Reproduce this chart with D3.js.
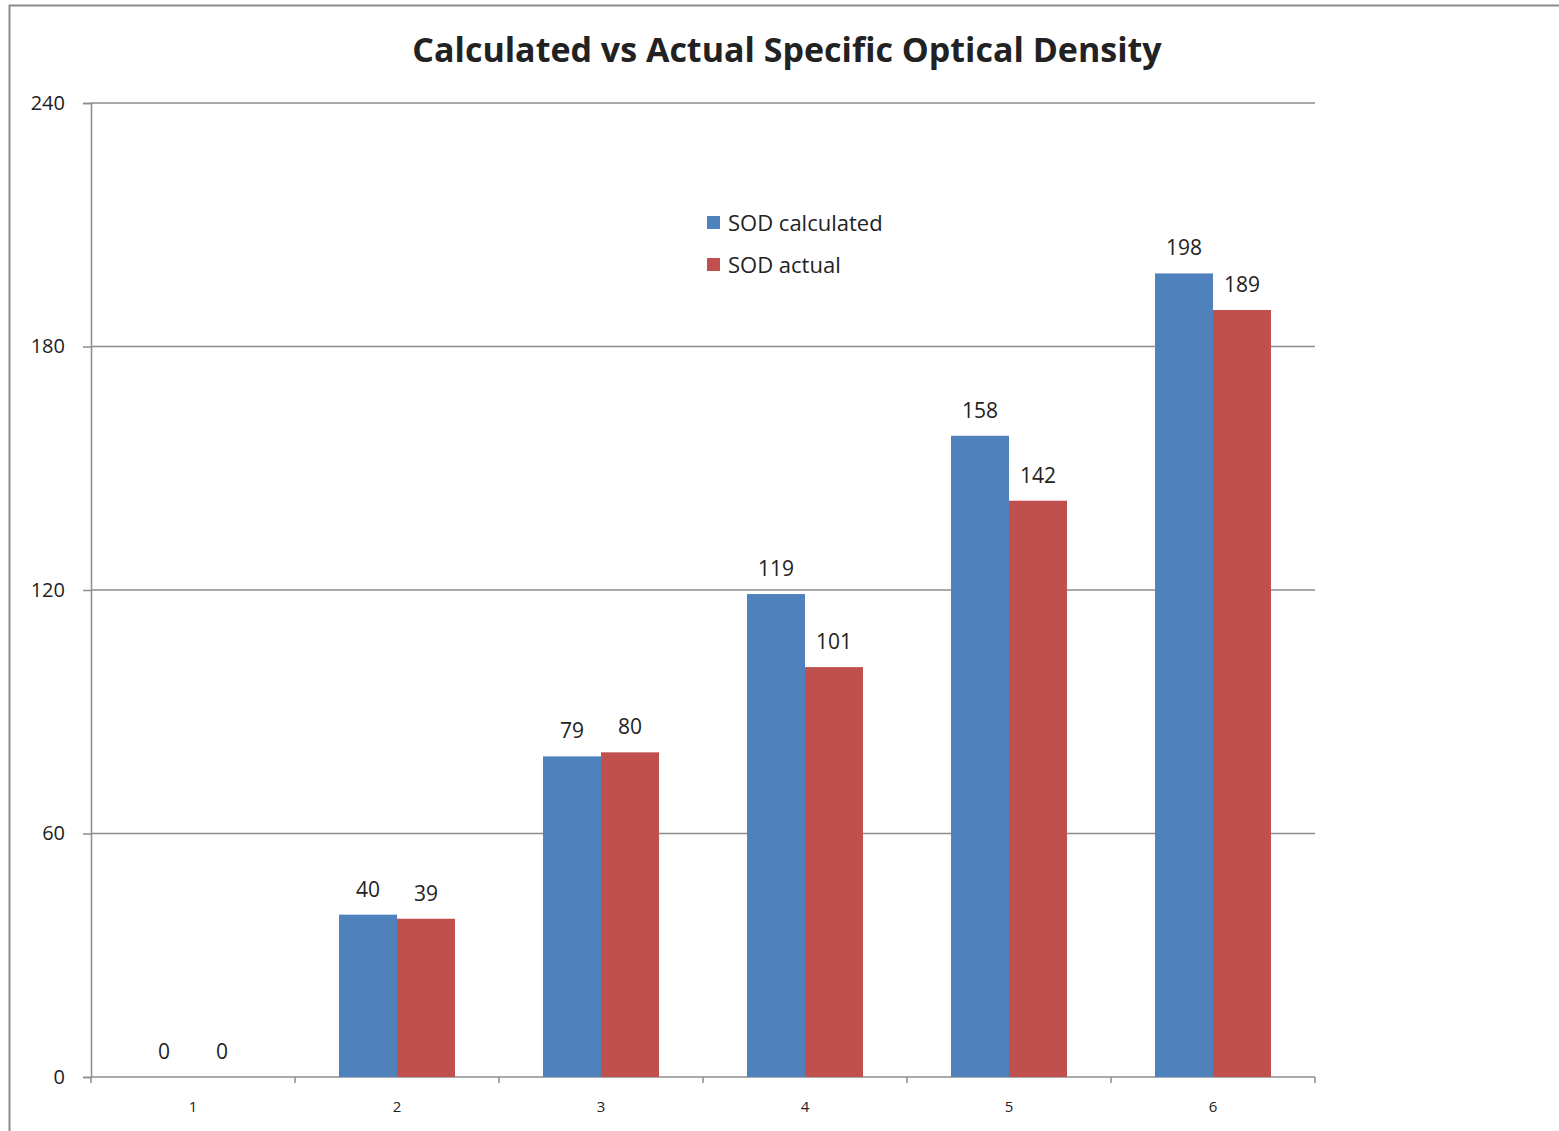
<!DOCTYPE html>
<html>
<head>
<meta charset="utf-8">
<script src="https://cdn.jsdelivr.net/npm/d3@7"></script>
<style>
  body { margin: 0; background: #fff; }
  text { font-family: "Open Sans", Lato, sans-serif; fill: #222; }
</style>
</head>
<body>
<script>
var categories = ["1", "2", "3", "4", "5", "6"];
var seriesNames = ["SOD calculated", "SOD actual"];
var sodCalculated = [0, 40, 79, 119, 158, 198];
var sodActual = [0, 39, 80, 101, 142, 189];
var yTicks = [0, 60, 120, 180, 240];
var colors = ["#4F81BD", "#C0504D"];

var W = 1559, H = 1131;
var plotLeft = 91, plotRight = 1315, plotTop = 103, plotBottom = 1077;

var svg = d3.select("body").append("svg").attr("width", W).attr("height", H);

// outer frame
svg.append("rect")
  .attr("x", 9.5).attr("y", 5.5).attr("width", W + 20).attr("height", H + 20)
  .attr("fill", "none").attr("stroke", "#8c8c8c").attr("stroke-width", 2);

var x = d3.scaleBand().domain(categories).range([plotLeft, plotRight]);
var y = d3.scaleLinear().domain([0, 240]).range([plotBottom, plotTop]);
var barW = 58;

// gridlines
svg.append("g").selectAll("line")
  .data(yTicks.filter(function(d){ return d > 0; }))
  .enter().append("line")
    .attr("x1", plotLeft).attr("x2", plotRight)
    .attr("y1", function(d){ return y(d); })
    .attr("y2", function(d){ return y(d); })
    .attr("stroke", "#8c8c8c").attr("stroke-width", 1.5);

// y axis
var yAxis = svg.append("g")
  .attr("transform", "translate(" + plotLeft + ",0)")
  .call(d3.axisLeft(y).tickValues(yTicks).tickSize(8).tickPadding(18));
yAxis.selectAll("path, line").attr("stroke", "#8c8c8c").attr("stroke-width", 1.5);
yAxis.selectAll("text").attr("font-size", 20).style("font-family", "\"Open Sans\", Lato, sans-serif").attr("fill", "#222");

// x axis: ticks at band boundaries
var xg = svg.append("g").attr("transform", "translate(0," + plotBottom + ")");
xg.append("line").attr("x1", plotLeft).attr("x2", plotRight).attr("stroke", "#8c8c8c").attr("stroke-width", 1.5);
xg.selectAll("line.tick")
  .data(categories.concat(["end"]))
  .enter().append("line")
    .attr("class", "tick")
    .attr("x1", function(d, i){ return plotLeft + i * x.step(); })
    .attr("x2", function(d, i){ return plotLeft + i * x.step(); })
    .attr("y1", 0).attr("y2", 6)
    .attr("stroke", "#8c8c8c").attr("stroke-width", 1.5);
xg.selectAll("text")
  .data(categories)
  .enter().append("text")
    .attr("x", function(d){ return x(d) + x.bandwidth() / 2; })
    .attr("y", 35)
    .attr("text-anchor", "middle")
    .attr("font-size", 15)
    .text(function(d){ return d; });

// bars
var series = [sodCalculated, sodActual];
series.forEach(function(vals, s) {
  var g = svg.append("g");
  g.selectAll("rect")
    .data(vals)
    .enter().append("rect")
      .attr("x", function(d, i){ return x(categories[i]) + x.bandwidth() / 2 - barW + s * barW; })
      .attr("y", function(d){ return y(d); })
      .attr("width", barW)
      .attr("height", function(d){ return plotBottom - y(d); })
      .attr("fill", colors[s]);
  g.selectAll("text")
    .data(vals)
    .enter().append("text")
      .attr("x", function(d, i){ return x(categories[i]) + x.bandwidth() / 2 - barW / 2 + s * barW; })
      .attr("y", function(d){ return y(d) - 18; })
      .attr("text-anchor", "middle")
      .attr("font-size", 21)
      .text(function(d){ return d; });
});

// title
svg.append("text")
  .attr("x", 787).attr("y", 62)
  .attr("text-anchor", "middle")
  .attr("font-size", 34).attr("font-weight", "bold")
  .text("Calculated vs Actual Specific Optical Density");

// legend
var legend = svg.append("g").attr("transform", "translate(707,216)");
seriesNames.forEach(function(name, i) {
  legend.append("rect").attr("x", 0).attr("y", i * 42).attr("width", 13).attr("height", 13).attr("fill", colors[i]);
  legend.append("text").attr("x", 21).attr("y", i * 42 + 15).attr("font-size", 22).text(name);
});
</script>
</body>
</html>
